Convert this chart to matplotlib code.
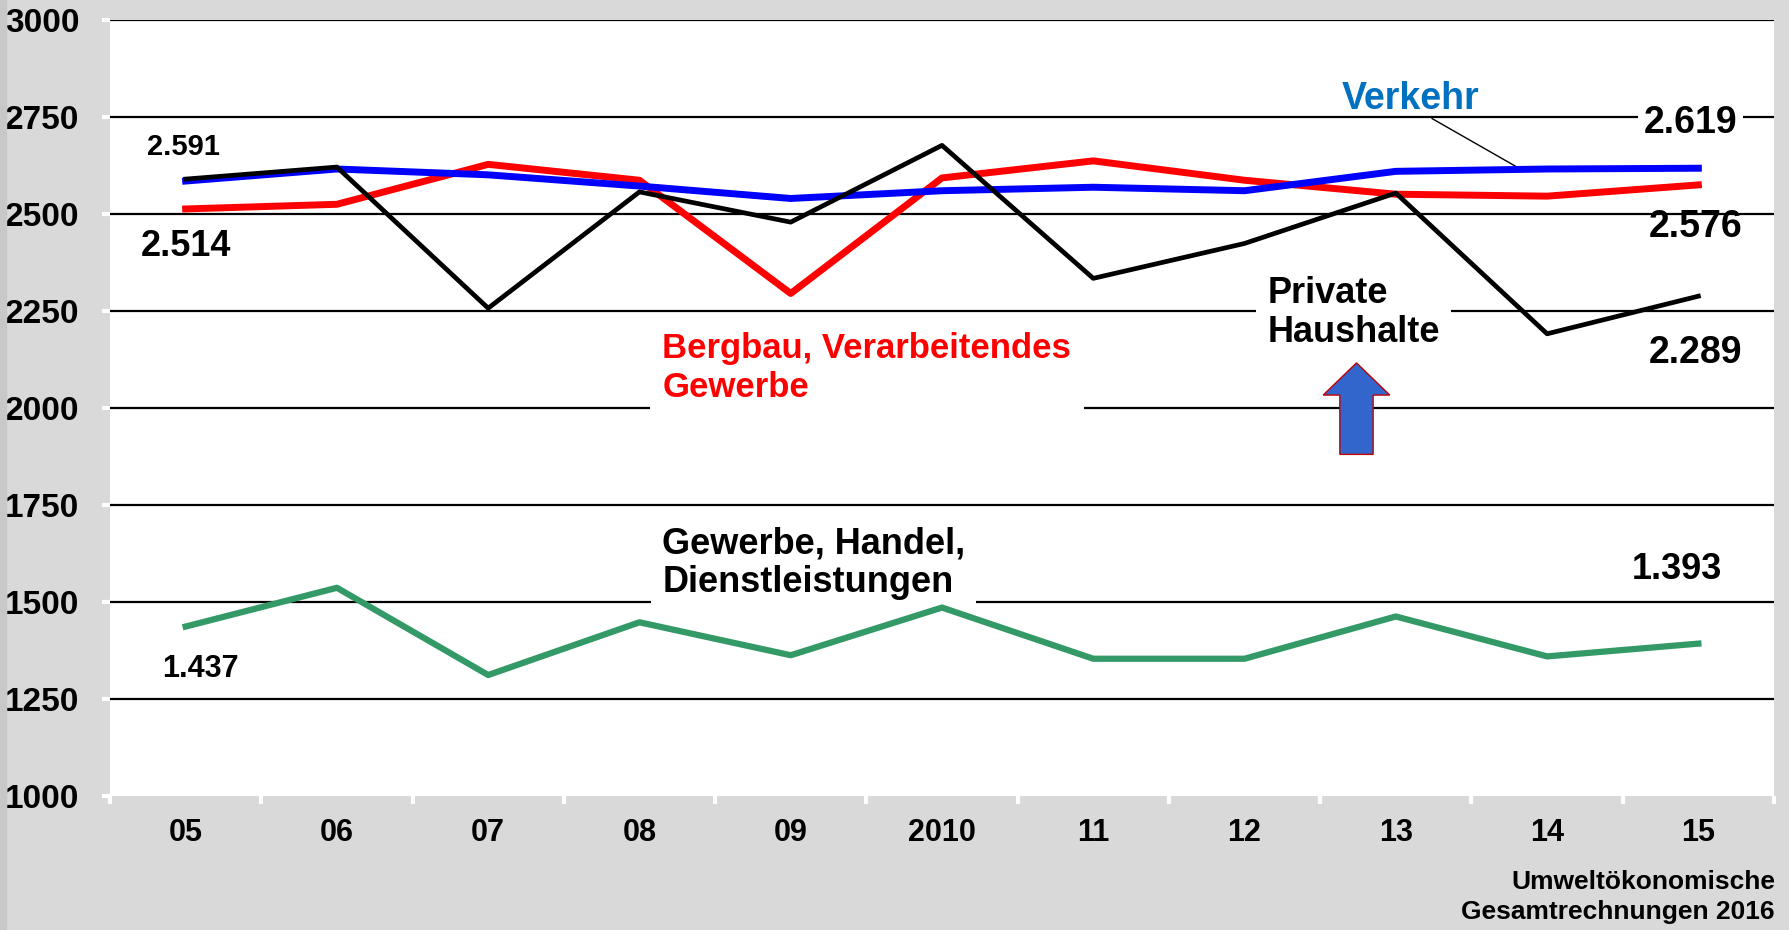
import numpy as np
import matplotlib
matplotlib.use("Agg")
import matplotlib.pyplot as plt

plt.rcParams['font.family'] = ['Liberation Sans', 'DejaVu Sans']
plt.rcParams['font.weight'] = 'bold'

years = ['05', '06', '07', '08', '09', '2010', '11', '12', '13', '14', '15']
haushalte = [2591, 2622, 2258, 2558, 2480, 2678, 2335, 2425, 2555, 2192, 2289]
verkehr = [2586, 2617, 2602, 2573, 2541, 2561, 2570, 2561, 2611, 2617, 2619]
bergbau = [2514, 2526, 2629, 2588, 2296, 2594, 2638, 2588, 2552, 2547, 2576]
ghd = [1437, 1537, 1312, 1448, 1363, 1486, 1354, 1354, 1463, 1360, 1393]
y_ticks = [1000, 1250, 1500, 1750, 2000, 2250, 2500, 2750, 3000]

x = np.arange(len(years))
W, H = 1790, 930

fig = plt.figure(figsize=(W / 100, H / 100), dpi=100, facecolor='#D9D9D9')
fig.patches.append(plt.Rectangle((0, 0), 6 / W, 1, transform=fig.transFigure,
                                 color='#C8C8C8', zorder=0))
ax = fig.add_axes([110 / W, 1 - 796 / H, (1774 - 110) / W, (796 - 20.5) / H])
ax.set_facecolor('white')
for s in ax.spines.values():
    s.set_visible(False)

ax.set_xlim(-0.5, len(years) - 0.5)
ax.set_ylim(1000, 3000)
ax.set_yticks(y_ticks)
ax.set_yticklabels([str(v) for v in y_ticks], fontsize=24, fontweight='bold')
ax.set_xticks(x)
ax.set_xticklabels(years, fontsize=22, fontweight='bold')
ax.set_xticks(np.arange(-0.5, len(years)), minor=True)
ax.tick_params(axis='x', which='major', length=0, pad=16)
ax.tick_params(axis='x', which='minor', length=6, width=3, color='white', direction='out')
ax.tick_params(axis='y', length=6, width=3, color='white', pad=16)

ax.set_axisbelow(True)
ax.yaxis.grid(True, color='black', linewidth=1.6)
ax.get_ygridlines()[0].set_visible(False)

# data lines
ax.plot(x, ghd, color='#339966', linewidth=4.5, zorder=4)
ax.plot(x, bergbau, color='#FF0000', linewidth=5, zorder=4)
ax.plot(x, verkehr, color='#0000FF', linewidth=5, zorder=5)
ax.plot(x, haushalte, color='black', linewidth=3.4, zorder=6)

wb = dict(facecolor='white', edgecolor='none', pad=4)

# value labels
ax.text(-0.015, 2675, '2.591', fontsize=21, ha='center', va='center', zorder=3)
ax.text(0.0, 2418, '2.514', fontsize=26, ha='center', va='center', zorder=3)
ax.text(9.95, 2735, '2.619', fontsize=27, ha='center', va='center', zorder=3, bbox=wb)
ax.text(9.98, 2467, '2.576', fontsize=27, ha='center', va='center', zorder=3)
ax.text(9.98, 2143, '2.289', fontsize=27, ha='center', va='center', zorder=3)
ax.text(9.86, 1584, '1.393', fontsize=26, ha='center', va='center', zorder=3)
ax.text(0.1, 1327, '1.437', fontsize=22, ha='center', va='center', zorder=3)

# series labels
ax.text(8.10, 2797, 'Verkehr', color='#0070C0', fontsize=27, ha='center',
        va='center', zorder=3)
ax.plot([8.24, 8.81], [2747, 2620], color='black', linewidth=1, zorder=3)
ax.text(3.15, 2104, 'Bergbau, Verarbeitendes\nGewerbe', color='#FF0000', fontsize=25,
        ha='left', va='center', linespacing=1.2, zorder=3,
        bbox=dict(facecolor='white', edgecolor='none', pad=9))
ax.text(7.15, 2245, 'Private\nHaushalte', color='black', fontsize=26,
        ha='left', va='center', linespacing=1.15, zorder=3,
        bbox=dict(facecolor='white', edgecolor='none', pad=8))
ax.text(3.15, 1600, 'Gewerbe, Handel,\nDienstleistungen', color='black', fontsize=26,
        ha='left', va='center', linespacing=1.15, zorder=3,
        bbox=dict(facecolor='white', edgecolor='none', pad=8))

# block arrow
ax.arrow(7.74, 1881, 0, 2117 - 1881, width=0.22, head_width=0.44, head_length=83,
         length_includes_head=True, facecolor='#3366CC', edgecolor='#C00000',
         linewidth=1, zorder=3)

fig.text(1775 / W, 1 - 897 / H, 'Umweltökonomische\nGesamtrechnungen 2016',
         fontsize=19, fontweight='bold', ha='right', va='center', linespacing=1.3)

fig.savefig('out.png', dpi=100, facecolor=fig.get_facecolor())
